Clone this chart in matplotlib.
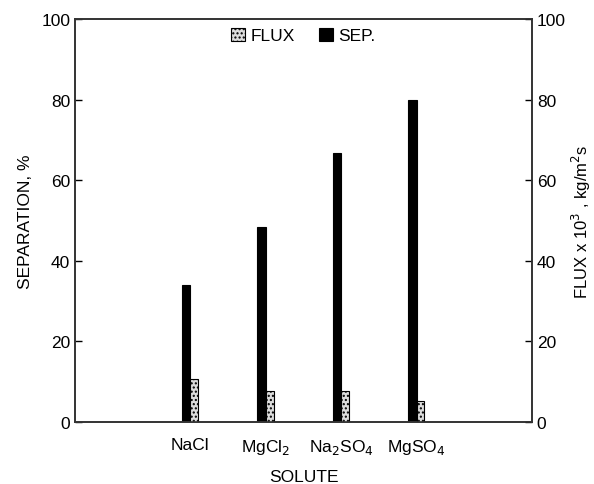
import numpy as np
import matplotlib.pyplot as plt

plt.rcParams['font.family'] = ['Liberation Sans', 'DejaVu Sans']
plt.rcParams['hatch.color'] = '#555555'

# Data
solutes = ['NaCl', 'MgCl$_2$', 'Na$_2$SO$_4$', 'MgSO$_4$']
separation = [34, 48.3, 66.8, 80]   # %
flux = [10.6, 7.6, 7.6, 5.2]        # kg/m2s x 10^3

x = np.arange(len(solutes))
w = 0.11

fig = plt.figure(figsize=(5.94, 4.85), dpi=100)
ax = fig.add_axes([0.1263, 0.1278, 0.7693, 0.831])
ax2 = ax.twinx()

b_sep = ax.bar(x - w / 2, separation, width=w, color='black', edgecolor='black', linewidth=0.8)
b_flux = ax2.bar(x + w / 2, flux, width=0.1, color='#dcdcdc', edgecolor='black',
                 linewidth=0.8, hatch='....')

for a in (ax, ax2):
    a.set_xlim(-1.525, 4.53)
    a.set_ylim(0, 100)
    a.set_yticks(np.arange(0, 101, 20))
    a.tick_params(axis='y', direction='in', length=5, width=1, labelsize=12.5)
    for s in a.spines.values():
        s.set_linewidth(1.2)
        s.set_color('#333333')

ax.set_xticks(x)
ax.set_xticklabels(solutes, fontsize=12.5)
ax.tick_params(axis='x', length=0, pad=11)
ax.set_xlabel('SOLUTE', fontsize=12.5, labelpad=9)
ax.set_ylabel('SEPARATION, %', fontsize=12.5, labelpad=6)
ax2.set_ylabel('FLUX x 10$^3$ , kg/m$^2$s', fontsize=12, labelpad=3)

ax.legend([b_flux, b_sep], ['FLUX', 'SEP.'], loc='upper center', ncol=2, frameon=False,
          fontsize=12.5, handlelength=0.8, handleheight=0.8, handletextpad=0.3,
          columnspacing=1.4, borderaxespad=0.1, bbox_to_anchor=(0.5, 1.0))

fig.savefig('out.png', dpi=100)
